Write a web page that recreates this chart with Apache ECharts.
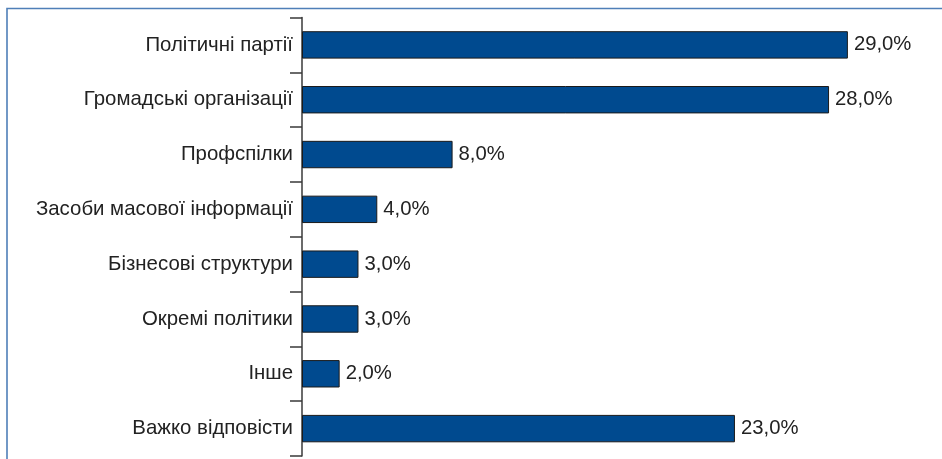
<!DOCTYPE html>
<html>
<head>
<meta charset="utf-8">
<script src="https://cdn.jsdelivr.net/npm/echarts@6/dist/echarts.min.js"></script>
<style>
html,body{margin:0;padding:0;background:#fff;}
#chart{width:942px;height:459px;}
</style>
</head>
<body>
<div id="chart"></div>
<script>
const categories = [
  'Політичні партії',
  'Громадські організації',
  'Профспілки',
  'Засоби масової інформації',
  'Бізнесові структури',
  'Окремі політики',
  'Інше',
  'Важко відповісти'
];
const values = [29.0, 28.0, 8.0, 4.0, 3.0, 3.0, 2.0, 23.0];

const chart = echarts.init(document.getElementById('chart'), null, {renderer: 'canvas'});
chart.setOption({
  animation: false,
  backgroundColor: '#ffffff',
  graphic: [{
    type: 'polyline',
    silent: true,
    z: 100,
    shape: {points: [[7, 470], [7, 8.5], [950, 8.5]]},
    style: {stroke: '#4f7fb8', lineWidth: 1.6, fill: null}
  }],
  grid: {left: 302, right: 0, top: 17.5, bottom: 3, containLabel: false},
  xAxis: {
    type: 'value', min: 0, max: 34,
    show: false, splitLine: {show: false}
  },
  yAxis: {
    type: 'category',
    data: categories,
    inverse: true,
    axisLine: {show: true, lineStyle: {color: '#3a3a3a', width: 1.5}},
    axisTick: {show: true, length: 12, lineStyle: {color: '#3a3a3a', width: 1.5}},
    axisLabel: {
      margin: 9,
      color: '#222222',
      fontFamily: 'Liberation Sans, Arial, sans-serif',
      fontSize: 20.4
    }
  },
  series: [{
    type: 'bar',
    data: values,
    barCategoryGap: '50%',
    itemStyle: {color: '#004a8f', borderColor: '#1a1a1a', borderWidth: 1},
    label: {
      show: true,
      position: 'right',
      distance: 6,
      color: '#222222',
      fontFamily: 'Liberation Sans, Arial, sans-serif',
      fontSize: 20.3,
      formatter: p => p.value.toFixed(1).replace('.', ',') + '%'
    }
  }]
});
</script>
</body>
</html>
